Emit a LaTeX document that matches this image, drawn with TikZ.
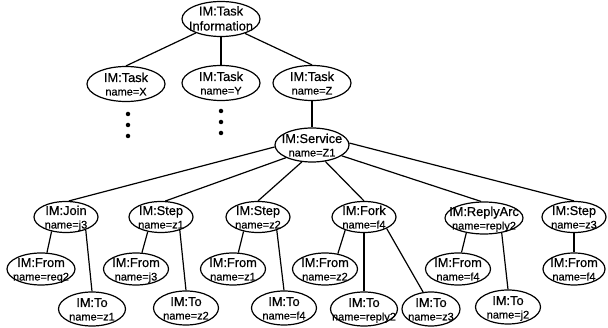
\documentclass[tikz,border=0pt]{standalone}
\usepackage{fontspec}
\setmainfont{Liberation Sans}[FakeBold=0.5]
\usetikzlibrary{shapes.geometric}

% two-line label set in a box of no size, so that the ellipse keeps its own size;
% optional argument: distance between the two baselines
\newcommand{\imlab}[3][13.5pt]{%
  \makebox[0pt]{\raisebox{-11.5pt}[0pt][0pt]{\vbox{\baselineskip=#1\relax\lineskiplimit=-20pt
    \halign{\hfil##\hfil\cr
      {\fontsize{12.8}{13}\selectfont #2}\cr
      {\fontsize{11}{11}\selectfont #3}\cr}}}}}

\tikzset{
  imnode/.style={ellipse, draw, line width=1.2pt, inner sep=0pt},
  big/.style={imnode, minimum width=78pt, minimum height=35pt},
  svcbox/.style={imnode, minimum width=74pt, minimum height=34pt},
  elem/.style={imnode, minimum width=64pt, minimum height=31pt},
  leaf/.style={imnode, minimum width=65pt, minimum height=32pt},
  tobox/.style={imnode, minimum width=65pt, minimum height=34pt},
  link/.style={line width=1.2pt},
  dot/.style={circle, fill, inner sep=0pt, minimum size=4.5pt}
}

\begin{document}
\begin{tikzpicture}[x=1pt, y=-1pt]
\useasboundingbox (0,0) rectangle (608,328);

% task level
\node[big] (root) at (221,19) {\imlab[15pt]{IM:Task}{\fontsize{12.8}{13}\selectfont Information}};
\node[big] (tx) at (126,84) {\imlab{IM:Task}{name=X}};
\node[big] (ty) at (221,83) {\imlab{IM:Task}{name=Y}};
\node[big] (tz) at (312,83) {\imlab{IM:Task}{name=Z}};

% omitted children
\node[dot] (xd1) at (128,114) {};
\node[dot] (xd2) at (128,125) {};
\node[dot] (xd3) at (128,136) {};
\node[dot] (yd1) at (221,111) {};
\node[dot] (yd2) at (221,122) {};
\node[dot] (yd3) at (221,133) {};

% service
\node[svcbox] (svc) at (312,145) {\imlab{IM:Service}{name=Z1}};

% service elements
\node[elem] (join) at (66,217) {\imlab{IM:Join}{name=j3}};
\node[elem] (s1)   at (161,217) {\imlab{IM:Step}{name=z1}};
\node[elem] (s2)   at (258,217) {\imlab{IM:Step}{name=z2}};
\node[elem] (fork) at (364,217) {\imlab{IM:Fork}{name=f4}};
\node[elem, minimum width=78pt, minimum height=32pt] (rarc) at (484,218) {\imlab{IM:ReplyArc}{name=reply2}};
\node[elem] (s3)   at (574,217) {\imlab{IM:Step}{name=z3}};

% from arcs
\node[leaf, minimum width=68pt] (fq) at (41,269) {\imlab{IM:From}{name=req2}};
\node[leaf] (fj)  at (136,269) {\imlab{IM:From}{name=j3}};
\node[leaf] (fz1) at (233,269) {\imlab{IM:From}{name=z1}};
\node[leaf] (fz2) at (325,269) {\imlab{IM:From}{name=z2}};
\node[leaf] (ff4) at (458,269) {\imlab{IM:From}{name=f4}};
\node[leaf, minimum width=62pt] (ff4b) at (574,269) {\imlab{IM:From}{name=f4}};

% to arcs
\node[tobox, minimum width=67pt] (tz1) at (92,309) {\imlab{IM:To}{name=z1}};
\node[tobox] (tz2) at (186,308) {\imlab{IM:To}{name=z2}};
\node[tobox] (tf4) at (284,308) {\imlab{IM:To}{name=f4}};
\node[tobox, minimum width=67pt] (tr2) at (364,309) {\imlab{IM:To}{name=reply2}};
\node[tobox, minimum width=58pt] (tz3) at (431,309) {\imlab{IM:To}{name=z3}};
\node[tobox] (tj2) at (508,307) {\imlab{IM:To}{name=j2}};

% connectors
\draw[link] (root.-151) -- (tx.north);
\draw[link] (root.south) -- (ty.north);
\draw[link] (root.-31) -- (tz.north);
\draw[link] (tz.south) -- (svc.north);

\draw[link] (svc.183) -- (join.80);
\draw[link] (svc.-154) -- (s1.75);
\draw[link] (svc.-121) -- (s2.north);
\draw[link] (svc.-51) -- (fork.north);
\draw[link] (svc.-20) -- (rarc.100);
\draw[link] (svc.3) -- (s3.north);

\draw[link] (join.-135) -- (fq.70);
\draw[link] (join.-33) -- (tz1.north);
\draw[link] (s1.-132) -- (fj.70);
\draw[link] (s1.-35) -- (tz2.north);
\draw[link] (s2.-135) -- (fz1.72);
\draw[link] (s2.-35) -- (tf4.north);
\draw[link] (fork.-145) -- (fz2.50);
\draw[link] (fork.south) -- (tr2.north);
\draw[link] (fork.-27) -- (tz3.115);
\draw[link] (rarc.-140) -- (ff4.78);
\draw[link] (rarc.-40) -- (tj2.north);
\draw[link] (s3.south) -- (ff4b.north);
\end{tikzpicture}
\end{document}
